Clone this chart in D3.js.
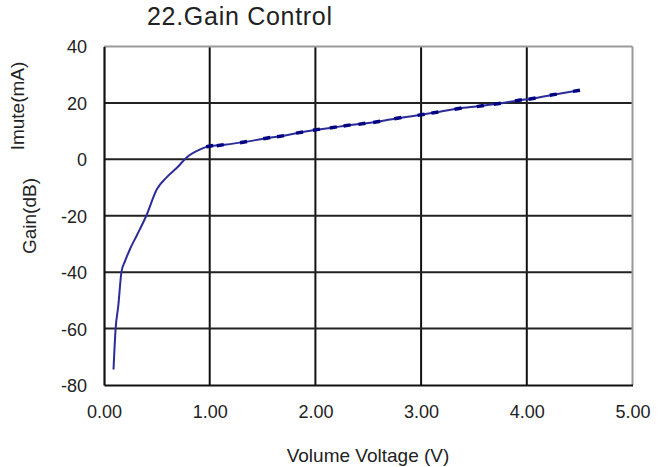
<!DOCTYPE html>
<html>
<head>
<meta charset="utf-8">
<script src="https://cdn.jsdelivr.net/npm/d3@7"></script>
<style>
  html, body { margin: 0; padding: 0; background: #fff; }
  svg { display: block; }
  text { font-family: "Liberation Sans", Arial, sans-serif; fill: #222; }
</style>
</head>
<body>
<svg id="chart" width="670" height="467"></svg>
<script>
const titleText = "22.Gain Control";
const xLabel = "Volume Voltage (V)";
const yLabelTop = "Imute(mA)";
const yLabelBottom = "Gain(dB)";
const xTicks = [0, 1, 2, 3, 4, 5];
const yTicks = [-80, -60, -40, -20, 0, 20, 40];
const voltage = [0.09, 0.11, 0.135, 0.165, 0.20, 0.25, 0.31, 0.40, 0.50, 0.59, 0.69, 0.78, 0.91, 1.00,
  1.10, 1.32, 1.54, 1.67, 1.85, 2.01, 2.17, 2.30, 2.44, 2.58, 2.78, 3.00, 3.13, 3.35, 3.56, 3.72, 3.92, 4.05, 4.25, 4.47];
const gain = [-74.5, -60, -52, -40, -36, -31.5, -27, -20, -10.6, -6.5, -3, 0.6, 3.5, 4.7,
  5.0, 6.1, 7.5, 8.2, 9.5, 10.5, 11.3, 12.0, 12.6, 13.3, 14.6, 15.8, 16.6, 18.0, 18.9, 19.7, 20.9, 21.5, 22.9, 24.3];

const svg = d3.select("#chart");
const x = d3.scaleLinear().domain([0, 5]).range([104, 632.5]);
const y = d3.scaleLinear().domain([-80, 40]).range([385, 46.5]);

// Grid
const grid = svg.append("g");
grid.selectAll("line.v").data(xTicks.slice(1, -1)).enter().append("line")
  .attr("x1", d => x(d)).attr("x2", d => x(d)).attr("y1", y(40)).attr("y2", y(-80))
  .attr("stroke", "#111").attr("stroke-width", 2);
grid.selectAll("line.h").data(yTicks.slice(1, -1)).enter().append("line")
  .attr("x1", x(0)).attr("x2", x(5)).attr("y1", d => y(d)).attr("y2", d => y(d))
  .attr("stroke", "#222").attr("stroke-width", 2);
// top & right border (gray)
grid.append("line").attr("x1", x(0)).attr("x2", x(5)).attr("y1", y(40)).attr("y2", y(40))
  .attr("stroke", "#9a9a9a").attr("stroke-width", 2);
grid.append("line").attr("x1", x(5)).attr("x2", x(5)).attr("y1", y(40)).attr("y2", y(-80))
  .attr("stroke", "#9a9a9a").attr("stroke-width", 2);

// Axes
const xAxis = d3.axisBottom(x).tickValues(xTicks).tickSize(0).tickPadding(20).tickFormat(d => d.toFixed(2));
const yAxis = d3.axisLeft(y).tickValues(yTicks).tickSize(0).tickPadding(17).tickFormat(d => String(d));
const gx = svg.append("g").attr("transform", `translate(0,${y(-80)})`).call(xAxis);
const gy = svg.append("g").attr("transform", `translate(${x(0)},0)`).call(yAxis);
[gx, gy].forEach(g => {
  g.select(".domain").attr("stroke", "#111").attr("stroke-width", 2.2);
  g.selectAll("text").style("font-size", "18px").attr("fill", "#222")
    .style("font-family", '"Liberation Sans", Arial, sans-serif');
});
gy.selectAll("text").attr("dy", "0.36em");

// Curve
const pts = voltage.map((v, i) => [v, gain[i]]);
svg.append("path").datum(pts)
  .attr("fill", "none").attr("stroke", "#2b2b9a").attr("stroke-width", 2)
  .attr("stroke-linejoin", "round")
  .attr("d", d3.line().curve(d3.curveMonotoneX).x(d => x(d[0])).y(d => y(d[1])));

// Markers (short dashes along the line)
svg.append("g").selectAll("line").data(pts.filter(d => d[0] >= 1.0)).enter().append("line")
  .attr("x1", d => x(d[0]) - 3.5).attr("x2", d => x(d[0]) + 3.5)
  .attr("y1", d => y(d[1]) + 0.6).attr("y2", d => y(d[1]) - 0.6)
  .attr("stroke", "#000080").attr("stroke-width", 3.5);

// Title and labels
svg.append("text").attr("x", 147).attr("y", 25).style("font-size", "25px").attr("fill", "#1a1a1a")
  .attr("textLength", 185).text(titleText);
svg.append("text").attr("x", 368).attr("y", 462).attr("text-anchor", "middle")
  .style("font-size", "19px").text(xLabel);
svg.append("text").attr("transform", "translate(24,106) rotate(-90)").attr("text-anchor", "middle")
  .style("font-size", "19px").text(yLabelTop);
svg.append("text").attr("transform", "translate(36,216) rotate(-90)").attr("text-anchor", "middle")
  .style("font-size", "19px").text(yLabelBottom);
</script>
</body>
</html>
